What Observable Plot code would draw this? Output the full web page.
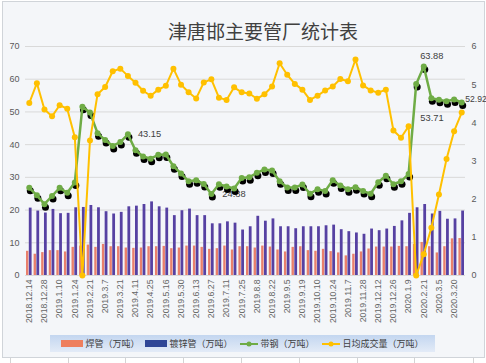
<!DOCTYPE html>
<html><head><meta charset="utf-8">
<script src="https://cdn.jsdelivr.net/npm/d3@7"></script>
<script src="https://cdn.jsdelivr.net/npm/@observablehq/plot@0.6"></script>
<style>
body{margin:0;background:#fff;font-family:"Noto Sans CJK SC","Noto Sans",sans-serif;}
#wrap{position:relative;width:486px;height:363px;overflow:hidden;background:#fff;}
.col{position:absolute;top:357px;width:1px;height:6px;background:#D4D4D4;}
#panel{position:absolute;left:2px;top:1px;width:481px;height:355px;background:#F4F6F9;border:1px solid #D0D4D9;}
#title{position:absolute;left:0;width:526px;top:21px;text-align:center;font-size:19px;line-height:19px;color:#404040;}
#chart{position:absolute;left:0;top:0;}
#legend{position:absolute;left:50px;top:335px;width:385px;height:17px;background:linear-gradient(#C3D6F0,#E3EBF7);display:flex;align-items:center;justify-content:center;font-size:9px;color:#404040;white-space:nowrap;}
.sw{display:inline-block;width:22px;height:7px;margin-right:2px;}
.it{display:flex;align-items:center;margin:0 3px;}
</style></head>
<body>
<div id="wrap">
  <div class="col" style="left:10px"></div><div class="col" style="left:68px"></div><div class="col" style="left:125px"></div>
  <div class="col" style="left:183px"></div><div class="col" style="left:241px"></div><div class="col" style="left:299px"></div>
  <div class="col" style="left:357px"></div><div class="col" style="left:414px"></div><div class="col" style="left:473px"></div>
  <div id="panel"></div>
  <div id="chart"></div>
  <div id="title">津唐邯主要管厂统计表</div>
  <div id="legend"></div>
</div>
<script>
const dates = ["2018.12.14","2018.12.21","2018.12.28","2019.1.4","2019.1.10","2019.1.17","2019.1.24","2019.1.31","2019.2.21","2019.2.28",
"2019.3.7","2019.3.14","2019.3.21","2019.3.28","2019.4.11","2019.4.18","2019.4.25","2019.5.9","2019.5.16","2019.5.23",
"2019.5.30","2019.6.6","2019.6.13","2019.6.20","2019.6.27","2019.7.4","2019.7.11","2019.7.18","2019.7.25","2019.8.1",
"2019.8.8","2019.8.15","2019.8.22","2019.8.29","2019.9.5","2019.9.12","2019.9.19","2019.9.26","2019.10.10","2019.10.17",
"2019.10.24","2019.10.31","2019.11.7","2019.11.21","2019.11.28","2019.12.5","2019.12.12","2019.12.19","2019.12.26","2020.1.2",
"2020.1.9","2020.1.16","2020.2.21","2020.2.28","2020.3.5","2020.3.12","2020.3.20","2020.3.27"];
const xTickLabels = ["2018.12.14","2018.12.28","2019.1.10","2019.1.24","2019.2.21","2019.3.7","2019.3.21","2019.4.11","2019.4.25","2019.5.16",
"2019.5.30","2019.6.13","2019.6.27","2019.7.11","2019.7.25","2019.8.8","2019.8.22","2019.9.5","2019.9.19","2019.10.10",
"2019.10.24","2019.11.7","2019.11.28","2019.12.12","2019.12.26","2020.1.9","2020.2.21","2020.3.5","2020.3.20"];
// 焊管（万吨）
const weldedPipe = [7.4,6.5,7.0,7.6,7.6,7.2,8.6,9.0,9.3,8.6,
9.5,8.8,8.8,8.4,8.3,8.4,8.8,8.8,8.9,8.2,
8.4,9.0,9.0,8.6,8.0,8.2,9.0,7.8,8.8,8.8,
8.4,9.0,8.7,7.8,7.2,8.6,8.8,7.6,7.4,8.0,
7.3,6.9,6.0,6.5,7.2,8.1,8.7,8.7,8.7,8.9,
8.8,9.5,10.1,8.8,6.9,8.8,11.2,11.3];
// 镀锌管（万吨）
const galvanizedPipe = [20.6,19.7,19.1,20.2,18.9,19.0,20.7,20.8,21.4,20.7,
19.5,18.8,19.3,21.0,21.2,21.7,22.5,21.0,20.6,18.3,
19.8,20.3,18.3,18.3,15.8,15.8,16.4,16.0,13.9,14.9,
18.1,16.6,17.3,14.9,14.9,14.3,14.9,14.9,14.9,15.2,
15.4,14.0,13.4,13.0,12.6,14.2,13.7,14.2,15.0,16.7,
19.0,20.7,21.7,18.8,19.6,17.2,17.3,19.7];
// 带钢（万吨）
const stripSteel = [26.8,24.5,21.8,24.3,26.8,25.3,28.4,51.6,49.8,43.5,
41.4,39.6,40.8,43.15,38.3,36.4,35.7,36.9,37.0,33.4,
31.2,28.8,29.1,28.0,24.88,27.9,27.2,26.6,29.8,30.0,
31.4,32.4,32.1,28.8,26.9,26.9,27.8,25.0,26.4,25.8,
29.1,27.5,26.4,27.0,25.8,25.0,28.5,30.5,27.9,28.8,
31.0,58.5,63.88,54.2,53.71,53.3,53.8,52.92];
// 日均成交量（万吨）— right axis
const dailyVolume = [4.52,5.04,4.35,4.17,4.46,4.37,3.62,0,3.54,4.75,
4.94,5.35,5.42,5.23,5.05,4.84,4.71,4.87,4.97,5.42,
5.00,4.80,4.64,5.06,5.14,4.66,4.60,4.93,4.80,4.77,
4.63,4.75,4.95,5.56,5.26,5.02,4.87,4.60,4.71,4.85,
4.95,5.15,5.09,5.66,4.98,4.85,4.79,4.87,3.80,3.61,
3.91,0,0.56,1.25,2.12,3.05,3.78,4.27];
const leftTicks = [0,10,20,30,40,50,60,70];
const rightTicks = [0,1,2,3,4,5,6];
const seriesNames = ["焊管（万吨）","镀锌管（万吨）","带钢（万吨）","日均成交量（万吨）"];

const k = 70/6;
const rows = dates.map((d,i)=>({date:d, weld:weldedPipe[i], galv:galvanizedPipe[i], strip:stripSteel[i], volY:dailyVolume[i]*k}));
const C = {weld:"#E9806C", galv:"#5641A2", strip:"#6FAC46", vol:"#FFC000"};
const lab = (dt)=> rows.filter(r=>r.date===dt);
const labOpts = {x:"date", y:"strip", text:d=>d.strip.toFixed(2), fontSize:9.3, fill:"#404040"};

const svg = Plot.plot({
  width:486, height:335, marginTop:46, marginBottom:60, marginLeft:25, marginRight:21,
  style:{background:"transparent", fontFamily:"'Liberation Sans',Arial,sans-serif", fontSize:"9px", color:"#595959", overflow:"visible"},
  x:{domain:dates, type:"band", padding:0, axis:null},
  y:{domain:[0,70], axis:null},
  marks:[
    Plot.ruleY(leftTicks, {stroke:"#D9D9D9", strokeWidth:1}),
    Plot.axisY({ticks:leftTicks, anchor:"left", tickSize:0, tickPadding:6, label:null, fill:"#595959"}),
    Plot.axisY({ticks:rightTicks.map(v=>v*k), tickFormat:d=>String(Math.round(d/k)), anchor:"right", tickSize:0, tickPadding:6, label:null, fill:"#595959"}),
    Plot.axisX({ticks:xTickLabels, anchor:"bottom", tickRotate:-90, tickSize:0, tickPadding:4, label:null, fontSize:8.7, fill:"#666666"}),
    Plot.barY(rows, {x:"date", y:"weld", fill:C.weld, insetLeft:1, insetRight:4.2}),
    Plot.barY(rows, {x:"date", y:"galv", fill:C.galv, insetLeft:3.8, insetRight:1}),
    Plot.text(lab("2019.6.27"), {...labOpts, dx:11, textAnchor:"start"}),
    Plot.line(rows, {x:"date", y:"strip", stroke:"#000", strokeWidth:5, dx:1, dy:3, ariaLabel:"shadow"}),
    Plot.dot(rows, {x:"date", y:"strip", fill:"#000", r:3.5, dx:1, dy:3, ariaLabel:"shadow"}),
    Plot.line(rows, {x:"date", y:"strip", stroke:C.strip, strokeWidth:2.5}),
    Plot.dot(rows, {x:"date", y:"strip", fill:C.strip, r:3}),
    Plot.line(rows, {x:"date", y:"volY", stroke:C.vol, strokeWidth:2}),
    Plot.dot(rows, {x:"date", y:"volY", fill:C.vol, r:3}),
    Plot.text(lab("2019.3.28"), {...labOpts, dx:10, textAnchor:"start"}),
    Plot.text(lab("2020.2.21"), {...labOpts, dx:8, dy:-11}),
    Plot.text(lab("2020.3.5"), {...labOpts, dx:-7, dy:18}),
    Plot.text(lab("2020.3.27"), {...labOpts, dx:3.5, dy:-3, textAnchor:"start", fontSize:8.6})
  ]
});
const defs = d3.select(svg).insert("defs", ":first-child");
defs.append("filter").attr("id","blur").attr("x","-5%").attr("y","-20%").attr("width","110%").attr("height","140%")
  .append("feGaussianBlur").attr("stdDeviation",1.6);
d3.select(svg).selectAll('g[aria-label="shadow"]').attr("filter","url(#blur)").attr("opacity",0.8);
document.getElementById("chart").appendChild(svg);

// legend
const lg = d3.select("#legend");
const swColors = ["#EE7F5E", "#2F4696", C.strip, C.vol];
seriesNames.forEach((name,i)=>{
  const it = lg.append("div").attr("class","it");
  if (i<2) it.append("span").attr("class","sw").style("background", swColors[i]);
  else {
    const s = it.append("svg").attr("width",20).attr("height",8).style("margin-right","2px");
    s.append("line").attr("x1",1).attr("x2",19).attr("y1",4).attr("y2",4).attr("stroke",swColors[i]).attr("stroke-width",2);
    s.append("circle").attr("cx",10).attr("cy",4).attr("r",2.5).attr("fill",swColors[i]);
  }
  it.append("span").text(name);
});
</script>
</body></html>
